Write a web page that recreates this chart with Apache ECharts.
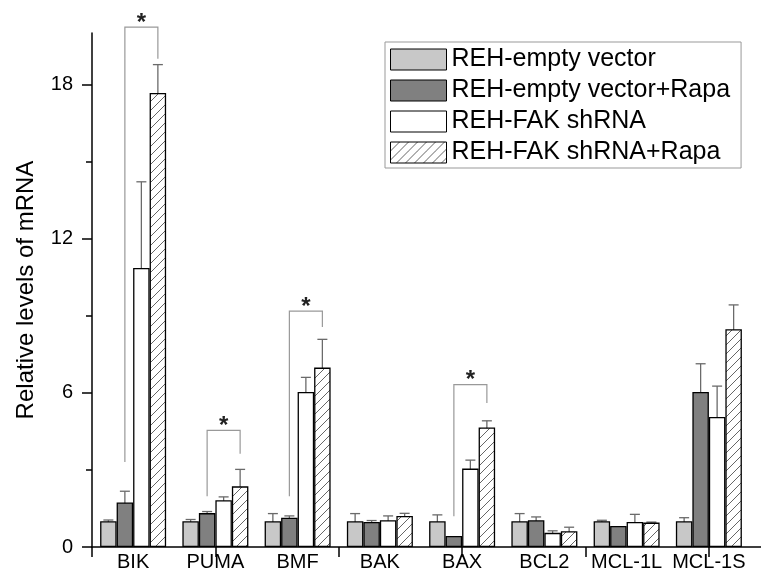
<!DOCTYPE html>
<html>
<head>
<meta charset="utf-8">
<script src="https://cdn.jsdelivr.net/npm/echarts@6/dist/echarts.min.js"></script>
<style>
  html, body { margin: 0; padding: 0; background: #fff; }
  #main { width: 761px; height: 574px; }
</style>
</head>
<body>
<div id="main"></div>
<script>
// categories and series values
var genes = ['BIK', 'PUMA', 'BMF', 'BAK', 'BAX', 'BCL2', 'MCL-1L', 'MCL-1S'];
var seriesNames = ['REH-empty vector', 'REH-empty vector+Rapa', 'REH-FAK shRNA', 'REH-FAK shRNA+Rapa'];

var emptyVec     = [1.0, 1.0, 1.0, 1.0, 1.0, 1.0, 1.0, 1.0];
var emptyVecErr  = [0.05, 0.07, 0.3, 0.3, 0.25, 0.3, 0.04, 0.14];
var emptyRapa    = [1.73, 1.32, 1.14, 0.97, 0.43, 1.04, 0.82, 6.03];
var emptyRapaErr = [0.44, 0.06, 0.07, 0.06, 0, 0.13, 0, 1.1];
var fakSh        = [10.86, 1.82, 6.03, 1.04, 3.05, 0.55, 0.97, 5.06];
var fakShErr     = [3.35, 0.13, 0.57, 0.17, 0.33, 0.08, 0.3, 1.2];
var fakRapa      = [17.67, 2.36, 6.98, 1.21, 4.65, 0.61, 0.95, 8.47];
var fakRapaErr   = [1.1, 0.66, 1.1, 0.1, 0.26, 0.16, 0.02, 0.95];

// significance brackets: category, left leg bottom, right leg bottom, top
var sigCats  = [0, 1, 2, 4];
var sigLeft  = [3.31, 1.97, 1.97, 1.2];
var sigRight = [19.0, 3.63, 8.56, 5.6];
var sigTop   = [20.23, 4.54, 9.18, 6.32];

var yTicks = [0, 6, 12, 18];

var BAR_W = 16.5;
var FONT = 'Liberation Sans, Arial, sans-serif';

/**
 * @name makeHatch
 * @desc canvas pattern with "/" diagonal lines
 * @return {object} echarts pattern
 */
function makeHatch() {
  var c = document.createElement('canvas'),
    s = 9,
    ctx;
  c.width = s;
  c.height = s;
  ctx = c.getContext('2d');
  ctx.fillStyle = '#fff';
  ctx.fillRect(0, 0, s, s);
  ctx.strokeStyle = '#666';
  ctx.lineWidth = 1;
  ctx.beginPath();
  ctx.moveTo(0, s); ctx.lineTo(s, 0);
  ctx.moveTo(-1, 1); ctx.lineTo(1, -1);
  ctx.moveTo(s - 1, s + 1); ctx.lineTo(s + 1, s - 1);
  ctx.stroke();
  return { image: c, repeat: 'repeat' };
}

var values = [emptyVec, emptyRapa, fakSh, fakRapa];
var errors = [emptyVecErr, emptyRapaErr, fakShErr, fakRapaErr];
var fills = ['#c8c8c8', '#808080', '#ffffff', makeHatch()];

var series = [];
var i, j;

for (i = 0; i < 4; i++) {
  series.push({
    name: seriesNames[i],
    type: 'bar',
    xAxisIndex: 0,
    yAxisIndex: 0,
    barWidth: BAR_W,
    barGap: '0%',
    itemStyle: { color: fills[i], borderColor: '#000', borderWidth: 1.3 },
    data: values[i]
  });
}

// error bars
var errData = [];
for (i = 0; i < 4; i++) {
  for (j = 0; j < genes.length; j++) {
    if (errors[i][j] > 0) {
      errData.push([j, values[i][j] - errors[i][j], values[i][j] + errors[i][j], i]);
    }
  }
}

series.push({
  type: 'custom',
  xAxisIndex: 0,
  yAxisIndex: 0,
  clip: false,
  silent: true,
  data: errData,
  renderItem: function (params, api) {
    var off = (api.value(3) - 1.5) * BAR_W,
      lo = api.coord([api.value(0), api.value(1)]),
      hi = api.coord([api.value(0), api.value(2)]),
      x = lo[0] + off,
      cap = 5,
      st = { stroke: '#6a6a6a', lineWidth: 1.3 };
    return {
      type: 'group',
      children: [
        { type: 'line', shape: { x1: x, y1: lo[1], x2: x, y2: hi[1] }, style: st },
        { type: 'line', shape: { x1: x - cap, y1: lo[1], x2: x + cap, y2: lo[1] }, style: st },
        { type: 'line', shape: { x1: x - cap, y1: hi[1], x2: x + cap, y2: hi[1] }, style: st }
      ]
    };
  }
});

// significance brackets
var sigData = [];
for (i = 0; i < sigCats.length; i++) {
  sigData.push([sigCats[i], sigLeft[i], sigRight[i], sigTop[i]]);
}

series.push({
  type: 'custom',
  xAxisIndex: 0,
  yAxisIndex: 0,
  clip: false,
  silent: true,
  data: sigData,
  renderItem: function (params, api) {
    var c = api.value(0),
      pl = api.coord([c, api.value(1)]),
      pr = api.coord([c, api.value(2)]),
      pt = api.coord([c, api.value(3)]),
      xl = pl[0] - 0.5 * BAR_W,
      xr = pl[0] + 1.5 * BAR_W,
      st = { stroke: '#999', lineWidth: 1.2, fill: null };
    return {
      type: 'group',
      children: [
        { type: 'polyline', shape: { points: [[xl, pl[1]], [xl, pt[1]], [xr, pt[1]], [xr, pr[1]]] }, style: st },
        { type: 'text', style: { text: '*', x: (xl + xr) / 2, y: pt[1] - 4, fill: '#222',
          font: 'bold 24px ' + FONT, align: 'center', verticalAlign: 'middle' } }
      ]
    };
  }
});

var myChart = echarts.init(document.getElementById('main'));

var option = {
  animation: false,
  backgroundColor: '#fff',
  textStyle: { fontFamily: FONT },
  legend: {
    orient: 'vertical',
    left: 385,
    top: 42,
    padding: [5, 11, 3, 5],
    borderColor: '#999',
    borderWidth: 1,
    itemWidth: 56,
    itemHeight: 21,
    itemGap: 6,
    icon: 'rect',
    itemStyle: { borderColor: '#000', borderWidth: 1 },
    textStyle: { fontSize: 25, color: '#000', lineHeight: 21, fontFamily: FONT },
    data: seriesNames
  },
  grid: [
    { left: 92, right: 11, top: 33, bottom: 27, outerBoundsMode: 'none', containLabel: false },
    { left: 92, right: -3, top: 33, bottom: 27, outerBoundsMode: 'none', containLabel: false }
  ],
  xAxis: [
    {
      type: 'category',
      gridIndex: 0,
      data: genes,
      axisLine: { show: false },
      axisTick: { show: false },
      axisLabel: { fontSize: 20, color: '#000', margin: 5, interval: 0, hideOverlap: false, fontFamily: FONT }
    },
    {
      // plain axis line with the original's odd tick marks
      type: 'value',
      gridIndex: 1,
      min: 0,
      max: 672 / 82.25,
      interval: 1.5,
      axisLine: { show: true, lineStyle: { color: '#000', width: 1.5 } },
      axisTick: { show: true, inside: false, length: 10, lineStyle: { color: '#000', width: 1.5 } },
      axisLabel: { show: false },
      splitLine: { show: false }
    }
  ],
  yAxis: [
    {
      type: 'value',
      gridIndex: 0,
      min: 0,
      max: 20,
      interval: 6,
      name: 'Relative levels of mRNA',
      nameLocation: 'middle',
      nameRotate: 90,
      nameGap: 54,
      nameTextStyle: { fontSize: 24, color: '#000', fontFamily: FONT },
      axisLine: { show: true, lineStyle: { color: '#000', width: 1.5 } },
      axisTick: { show: true, inside: false, length: 10, customValues: yTicks, lineStyle: { color: '#000', width: 1.5 } },
      minorTick: { show: true, splitNumber: 2, length: 6, lineStyle: { color: '#000', width: 1.5 } },
      axisLabel: { fontSize: 20, color: '#000', margin: 19, customValues: yTicks, fontFamily: FONT },
      splitLine: { show: false },
      minorSplitLine: { show: false }
    },
    {
      type: 'value',
      gridIndex: 1,
      min: 0,
      max: 20,
      show: false
    }
  ],
  series: series
};

myChart.setOption(option);
</script>
</body>
</html>
